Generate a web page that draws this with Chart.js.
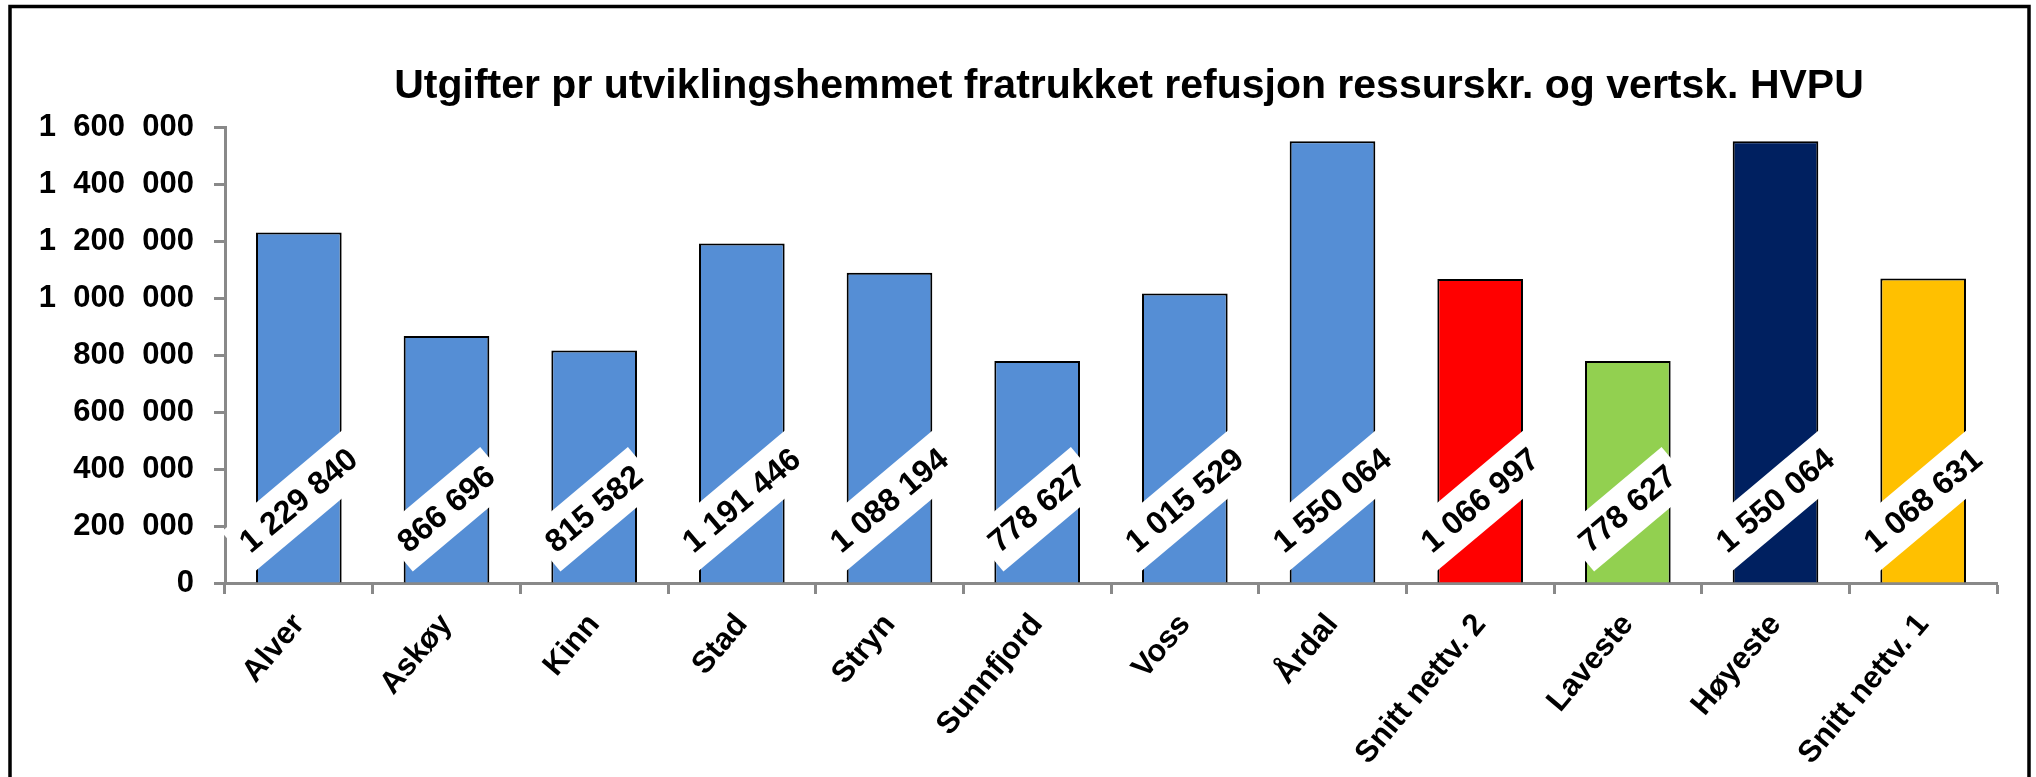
<!DOCTYPE html>
<html>
<head>
<meta charset="utf-8">
<script src="https://cdn.jsdelivr.net/npm/chart.js@4"></script>
<style>
  html, body { margin: 0; padding: 0; background: #fff; }
  canvas { display: block; }
</style>
</head>
<body>
<canvas id="chart" width="2036" height="777"></canvas>
<script>
const titleText = 'Utgifter pr utviklingshemmet fratrukket refusjon ressurskr. og vertsk. HVPU';

const categories = ['Alver', 'Askøy', 'Kinn', 'Stad', 'Stryn', 'Sunnfjord', 'Voss', 'Årdal',
  'Snitt nettv. 2', 'Laveste', 'Høyeste', 'Snitt nettv. 1'];
const values = [1229840, 866696, 815582, 1191446, 1088194, 778627, 1015529, 1550064,
  1066997, 778627, 1550064, 1068631];
const barColors = ['#558ED5', '#558ED5', '#558ED5', '#558ED5', '#558ED5', '#558ED5', '#558ED5', '#558ED5',
  '#FF0000', '#92D050', '#002060', '#FFC000'];
const yTickLabels = ['0', '200  000', '400  000', '600  000', '800  000', '1  000  000',
  '1  200  000', '1  400  000', '1  600  000'];

const FONT = '"Liberation Sans", Arial, sans-serif';
const LABEL_ANGLE = 40; // value labels, degrees

// thousands with a space, like the Excel labels
function fmt(v) {
  return String(v).replace(/\B(?=(\d{3})+(?!\d))/g, ' ');
}

// white background, frame round the picture, title
const framePlugin = {
  id: 'frame',
  beforeDraw(chart) {
    const ctx = chart.ctx;
    ctx.save();
    ctx.fillStyle = '#fff';
    ctx.fillRect(0, 0, chart.width, chart.height);
    ctx.strokeStyle = '#000';
    ctx.lineWidth = 3.5;
    ctx.beginPath();
    ctx.moveTo(10, chart.height);
    ctx.lineTo(10, 6.5);
    ctx.lineTo(2029, 6.5);
    ctx.lineTo(2029, chart.height);
    ctx.stroke();
    ctx.restore();
  },
  afterDraw(chart) {
    const ctx = chart.ctx;
    ctx.save();
    ctx.fillStyle = '#000';
    ctx.font = 'bold 41px ' + FONT;
    ctx.textAlign = 'center';
    ctx.textBaseline = 'alphabetic';
    ctx.fillText(titleText, 1129, 98);
    ctx.restore();
  }
};

// rotated value labels with white box, sitting at the base of each bar
const valueLabelPlugin = {
  id: 'valueLabels',
  afterDatasetsDraw(chart) {
    const ctx = chart.ctx;
    const meta = chart.getDatasetMeta(0);
    const size = 32;
    const a = LABEL_ANGLE * Math.PI / 180;
    ctx.save();
    ctx.font = 'bold ' + size + 'px ' + FONT;
    meta.data.forEach((bar, i) => {
      const text = fmt(values[i]);
      const w = ctx.measureText(text).width + 16;
      const h = size + 20;
      const halfH = (w * Math.sin(a) + h * Math.cos(a)) / 2;
      const cy = bar.base - 11 - halfH;
      ctx.save();
      ctx.translate(bar.x, cy);
      ctx.rotate(-a);
      ctx.fillStyle = '#fff';
      ctx.fillRect(-w / 2, -h / 2, w, h);
      ctx.fillStyle = '#000';
      ctx.textAlign = 'center';
      ctx.textBaseline = 'middle';
      ctx.fillText(text, 0, 1);
      ctx.restore();
    });
    ctx.restore();
  }
};

const ctx = document.getElementById('chart').getContext('2d');
new Chart(ctx, {
  type: 'bar',
  data: {
    labels: categories,
    datasets: [{
      data: values,
      backgroundColor: barColors,
      borderColor: '#000',
      borderWidth: 2,
      categoryPercentage: 1,
      barPercentage: 0.58
    }]
  },
  options: {
    responsive: false,
    animation: false,
    devicePixelRatio: 1,
    layout: { padding: { left: 0, right: 39, top: 127, bottom: 0 } },
    plugins: {
      legend: { display: false },
      title: { display: false },
      tooltip: { enabled: false }
    },
    scales: {
      x: {
        afterFit(scale) { scale.height = 194; },
        border: { color: '#898989', width: 3 },
        grid: {
          offset: true,
          drawOnChartArea: false,
          drawTicks: true,
          tickLength: 11,
          tickWidth: 3,
          color: '#898989'
        },
        ticks: {
          autoSkip: false,
          minRotation: 50,
          maxRotation: 50,
          padding: 13,
          color: '#000',
          font: { family: FONT, size: 31, weight: 'bold' }
        }
      },
      y: {
        min: 0,
        max: 1600000,
        afterFit(scale) { scale.width = 225; },
        border: { color: '#898989', width: 3 },
        grid: {
          drawOnChartArea: false,
          drawTicks: true,
          tickLength: 11,
          tickWidth: 3,
          color: '#898989'
        },
        ticks: {
          stepSize: 200000,
          padding: 20,
          color: '#000',
          font: { family: FONT, size: 31, weight: 'bold' },
          callback: (v, i) => yTickLabels[i]
        }
      }
    }
  },
  plugins: [framePlugin, valueLabelPlugin]
});
</script>
</body>
</html>
